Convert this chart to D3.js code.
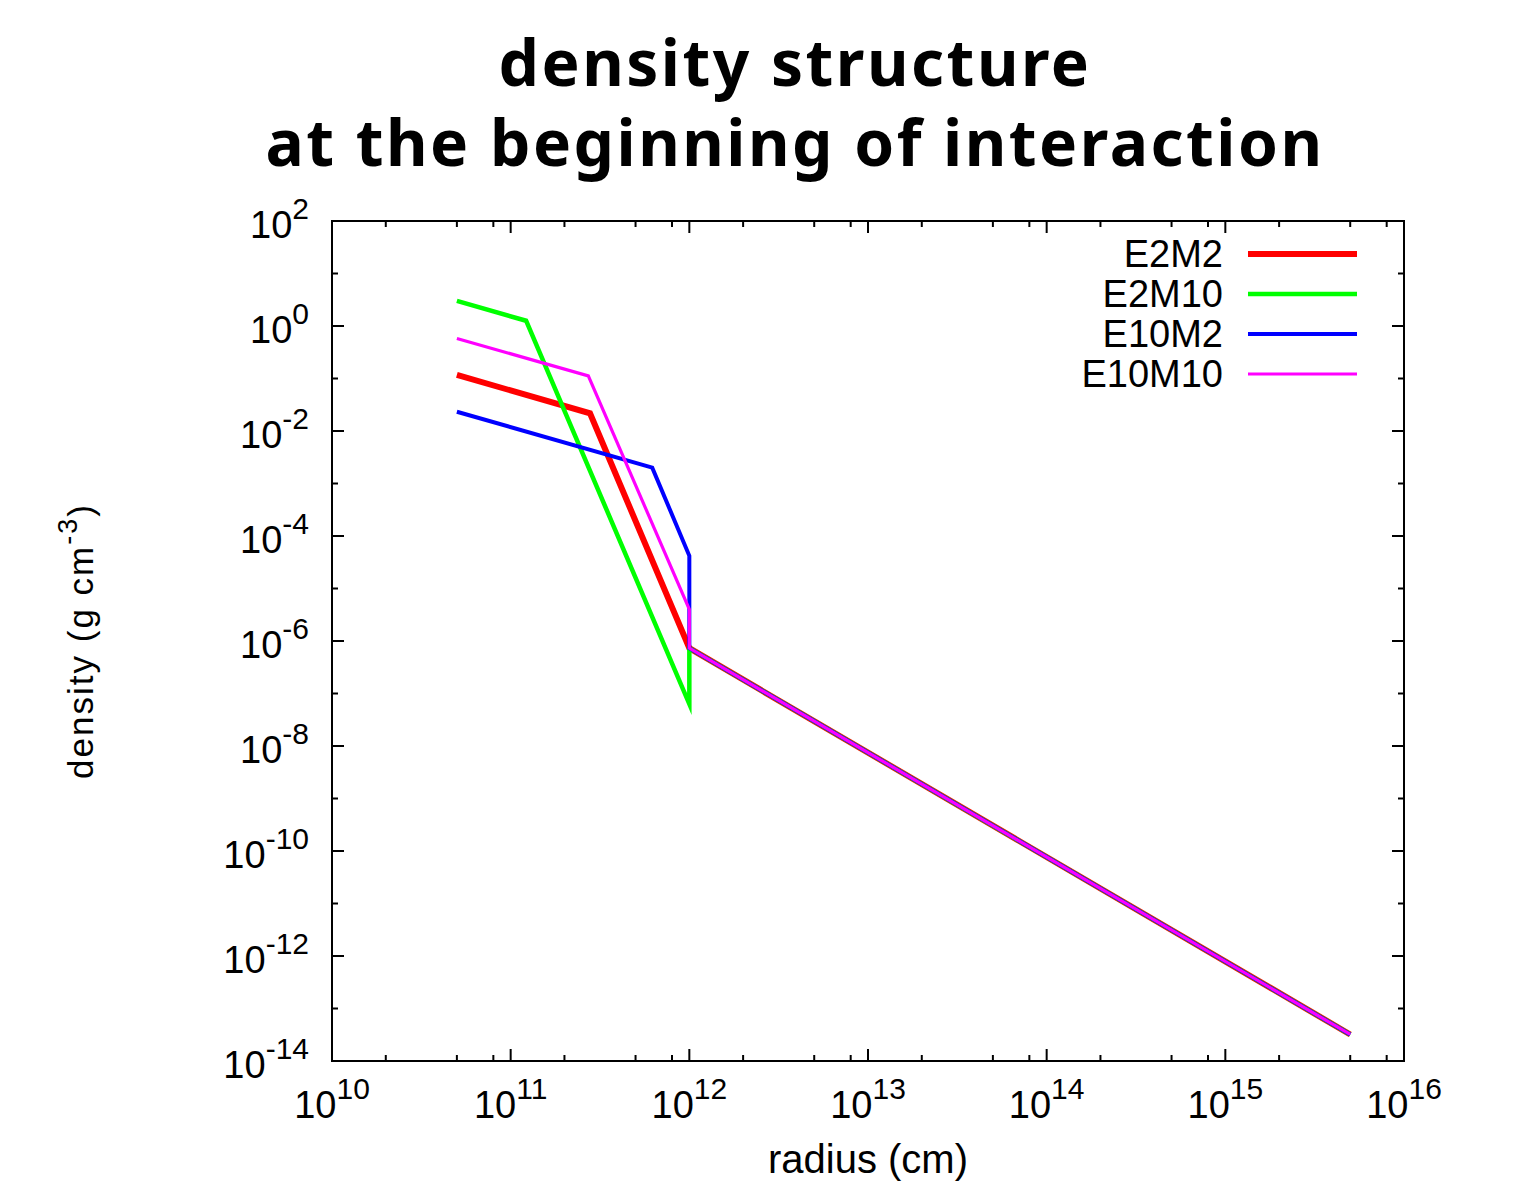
<!DOCTYPE html>
<html>
<head>
<meta charset="utf-8">
<script src="https://cdn.jsdelivr.net/npm/d3@7"></script>
<style>
  body { margin: 0; background: #fff; }
  text { font-family: "Liberation Sans", Arial, Helvetica, sans-serif; fill: #000; }
  .title { font-family: "Noto Sans", "Open Sans", sans-serif; font-weight: 700; }
</style>
</head>
<body>
<svg id="chart" width="1514" height="1197"></svg>
<script>
// Density profiles (radius in cm, density in g cm^-3) for each model
const seriesNames = ["E2M2", "E2M10", "E10M2", "E10M10"];
const seriesColors = ["#ff0000", "#00ff00", "#0000ff", "#ff00ff"];

const radiusE2M2   = [5e10, 2.78e11, 1e12, 5e15];
const densityE2M2  = [0.117, 0.0217, 7.3e-7, 3.2e-14];

const radiusE2M10  = [5e10, 1.22e11, 1e12, 1e12, 5e15];
const densityE2M10 = [3.0, 1.26, 6.3e-8, 7.3e-7, 3.2e-14];

const radiusE10M2  = [5e10, 6.2e11, 1e12, 1e12, 5e15];
const densityE10M2 = [0.0233, 2.0e-3, 4.2e-5, 7.3e-7, 3.2e-14];

const radiusE10M10  = [5e10, 2.72e11, 1e12, 1e12, 5e15];
const densityE10M10 = [0.58, 0.112, 4.0e-6, 7.3e-7, 3.2e-14];

// Axis ranges and tick exponents
const xDomain = [1e10, 1e16];
const yDomain = [1e-14, 1e2];
const xTickExponents = [10, 11, 12, 13, 14, 15, 16];
const yTickExponents = [2, 0, -2, -4, -6, -8, -10, -12, -14];
const xMinorMultipliers = [2, 5, 8];

const radii = [radiusE2M2, radiusE2M10, radiusE10M2, radiusE10M10];
const densities = [densityE2M2, densityE2M10, densityE10M2, densityE10M10];
const lineWidths = [6, 4.5, 4, 3.2];

const svg = d3.select("#chart");
const plotLeft = 332, plotRight = 1404, plotTop = 221, plotBottom = 1061;

const x = d3.scaleLog().domain(xDomain).range([plotLeft, plotRight]);
const y = d3.scaleLog().domain(yDomain).range([plotBottom, plotTop]);

// Title
const title = svg.append("text").attr("class", "title")
  .attr("text-anchor", "middle").attr("font-size", 64).attr("letter-spacing", 2.5);
title.append("tspan").attr("x", 795).attr("y", 86).text("density structure");
title.append("tspan").attr("x", 795).attr("y", 166).text("at the beginning of interaction");

// Ticks (drawn inward on all four sides)
const ticks = svg.append("g").attr("stroke", "#000").attr("stroke-width", 2);
xTickExponents.forEach(e => {
  const px = x(Math.pow(10, e));
  ticks.append("line").attr("x1", px).attr("x2", px).attr("y1", plotBottom).attr("y2", plotBottom - 12);
  ticks.append("line").attr("x1", px).attr("x2", px).attr("y1", plotTop).attr("y2", plotTop + 12);
  if (e < 16) {
    xMinorMultipliers.forEach(m => {
      const pm = x(m * Math.pow(10, e));
      ticks.append("line").attr("x1", pm).attr("x2", pm).attr("y1", plotBottom).attr("y2", plotBottom - 6);
      ticks.append("line").attr("x1", pm).attr("x2", pm).attr("y1", plotTop).attr("y2", plotTop + 6);
    });
  }
});
d3.range(-14, 3).forEach(e => {
  const py = y(Math.pow(10, e));
  const len = (e % 2 === 0) ? 12 : 6;
  ticks.append("line").attr("x1", plotLeft).attr("x2", plotLeft + len).attr("y1", py).attr("y2", py);
  ticks.append("line").attr("x1", plotRight).attr("x2", plotRight - len).attr("y1", py).attr("y2", py);
});

// Tick labels with superscript exponents
xTickExponents.forEach(e => {
  const t = svg.append("text").attr("x", x(Math.pow(10, e))).attr("y", 1118)
    .attr("text-anchor", "middle").attr("font-size", 38);
  t.append("tspan").text("10");
  t.append("tspan").attr("dy", -19).attr("font-size", 30).text(String(e));
});
yTickExponents.forEach(e => {
  const t = svg.append("text").attr("x", 309).attr("y", y(Math.pow(10, e)) + 17)
    .attr("text-anchor", "end").attr("font-size", 38);
  t.append("tspan").text("10");
  t.append("tspan").attr("dy", -19).attr("font-size", 30).text(String(e));
});

// Axis titles
svg.append("text").attr("x", 868).attr("y", 1173).attr("text-anchor", "middle")
  .attr("font-size", 40).text("radius (cm)");
const yl = svg.append("text").attr("transform", "translate(93,641) rotate(-90)")
  .attr("text-anchor", "middle").attr("font-size", 35).attr("letter-spacing", 2);
yl.append("tspan").text("density (g cm");
yl.append("tspan").attr("dy", -16).attr("font-size", 27).text("-3");
yl.append("tspan").attr("dy", 16).text(")");

// Data lines
const line = d3.line().x(d => x(d[0])).y(d => y(d[1]));
seriesNames.forEach((name, i) => {
  const pts = radii[i].map((r, k) => [r, densities[i][k]]);
  svg.append("path").datum(pts)
    .attr("d", line)
    .attr("fill", "none")
    .attr("stroke", seriesColors[i])
    .attr("stroke-width", lineWidths[i])
    .attr("stroke-linejoin", "miter")
    .attr("stroke-miterlimit", 12);
});

// Plot frame
svg.append("rect").attr("x", plotLeft).attr("y", plotTop)
  .attr("width", plotRight - plotLeft).attr("height", plotBottom - plotTop)
  .attr("fill", "none").attr("stroke", "#000").attr("stroke-width", 2);

// Legend
const legendRows = [254, 294, 334, 374];
seriesNames.forEach((name, i) => {
  svg.append("text").attr("x", 1223).attr("y", legendRows[i] + 13)
    .attr("text-anchor", "end").attr("font-size", 38).text(name);
  svg.append("line").attr("x1", 1248).attr("x2", 1357)
    .attr("y1", legendRows[i]).attr("y2", legendRows[i])
    .attr("stroke", seriesColors[i]).attr("stroke-width", lineWidths[i]);
});
</script>
</body>
</html>
